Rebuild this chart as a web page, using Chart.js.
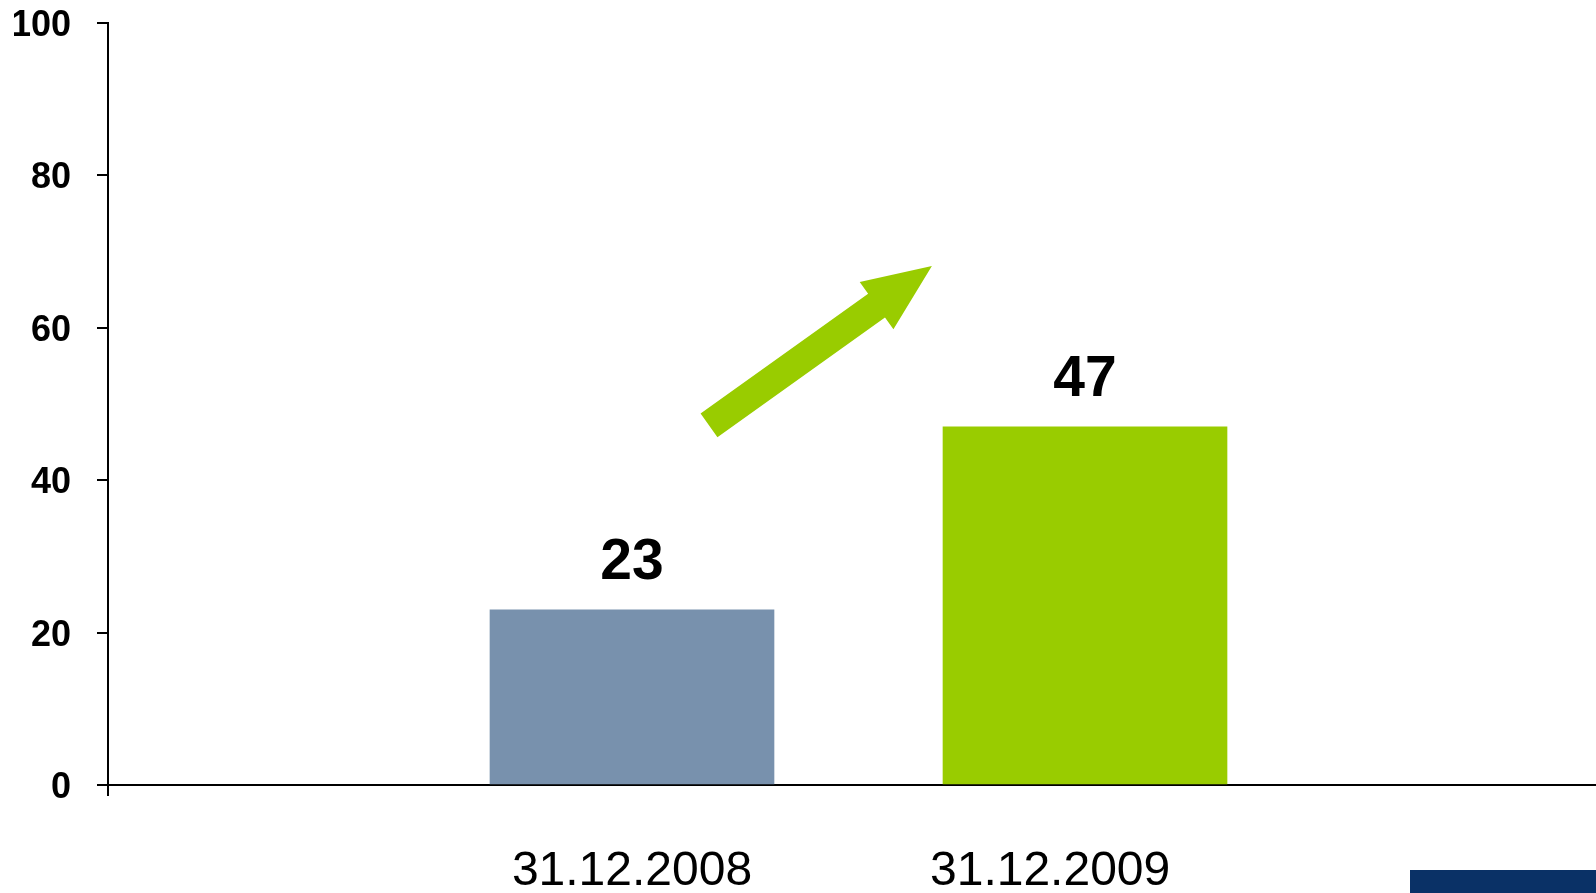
<!DOCTYPE html>
<html>
<head>
<meta charset="utf-8">
<script src="https://cdn.jsdelivr.net/npm/chart.js@4/dist/chart.umd.min.js"></script>
<style>
    html, body { margin: 0; padding: 0; background: #fff; }
    #wrap { position: relative; width: 1596px; height: 893px; overflow: hidden; }
    #footerBar { position: absolute; left: 1410px; top: 870px; width: 186px; height: 23px; background: #0a3166; }
</style>
</head>
<body>
<div id="wrap">
    <canvas id="chart" width="1596" height="893"></canvas>
    <div id="footerBar"></div>
</div>
<script>
// data
const categories = ['31.12.2008', '31.12.2009'];
const values = [23, 47];
const barColors = ['#7891ad', '#99cc00'];
const yTicks = [0, 20, 40, 60, 80, 100];

// growth arrow, in chart value space
const arrowFrom = { x: 1.17, y: 47.2 };
const arrowTo = { x: 1.662, y: 68.1 };

const FONT = '"Liberation Sans", Arial, sans-serif';
// category labels are not quite centred under their bars in the original
const labelShift = [0, -0.077];

// value labels above the bars
const valueLabels = {
    id: 'valueLabels',
    afterDatasetsDraw(chart) {
        const ctx = chart.ctx;
        const meta = chart.getDatasetMeta(0);
        ctx.save();
        ctx.font = 'bold 57px ' + FONT;
        ctx.fillStyle = '#000';
        ctx.textAlign = 'center';
        ctx.textBaseline = 'alphabetic';
        meta.data.forEach((bar, i) => ctx.fillText(String(values[i]), bar.x, bar.y - 31));
        ctx.restore();
    }
};

// green arrow
const growthArrow = {
    id: 'growthArrow',
    afterDatasetsDraw(chart) {
        const { ctx, scales } = chart;
        const x0 = scales.x.getPixelForValue(arrowFrom.x), y0 = scales.y.getPixelForValue(arrowFrom.y);
        const x1 = scales.x.getPixelForValue(arrowTo.x), y1 = scales.y.getPixelForValue(arrowTo.y);
        const len = Math.hypot(x1 - x0, y1 - y0);
        const ux = (x1 - x0) / len, uy = (y1 - y0) / len;
        const nx = -uy, ny = ux;
        const hw = 14.5, hh = 29, hl = 68;
        const bx = x1 - ux * hl, by = y1 - uy * hl;
        ctx.save();
        ctx.fillStyle = '#99cc00';
        ctx.beginPath();
        ctx.moveTo(x0 + nx * hw, y0 + ny * hw);
        ctx.lineTo(bx + nx * hw, by + ny * hw);
        ctx.lineTo(bx + nx * hh, by + ny * hh);
        ctx.lineTo(x1, y1);
        ctx.lineTo(bx - nx * hh, by - ny * hh);
        ctx.lineTo(bx - nx * hw, by - ny * hw);
        ctx.lineTo(x0 - nx * hw, y0 - ny * hw);
        ctx.closePath();
        ctx.fill();
        ctx.restore();
    }
};

const ctx = document.getElementById('chart').getContext('2d');
new Chart(ctx, {
    type: 'bar',
    data: {
        datasets: [{
            data: values.map((v, i) => ({ x: i + 1, y: v })),
            backgroundColor: barColors,
            borderWidth: 0,
            barThickness: 284
        }]
    },
    options: {
        responsive: false,
        animation: false,
        devicePixelRatio: 1,
        layout: { padding: { left: 14, top: 23, right: 0, bottom: 0 } },
        plugins: {
            legend: { display: false },
            tooltip: { enabled: false }
        },
        scales: {
            x: {
                type: 'linear',
                offset: false,
                min: -0.1567,
                max: 3.128,
                afterBuildTicks: scale => {
                    scale.ticks = [{ value: scale.min }].concat(categories.map((c, i) => ({ value: i + 1 + labelShift[i] })));
                },
                afterFit: scale => {
                    scale.height = 108;
                    scale.paddingLeft = 0;
                    scale.paddingRight = 0;
                },
                ticks: {
                    autoSkip: false,
                    maxRotation: 0,
                    padding: 52,
                    color: '#000',
                    font: { family: FONT, size: 48, lineHeight: 1.0 },
                    callback: (v, i) => i > 0 ? categories[i - 1] : ''
                },
                grid: {
                    offset: false,
                    drawOnChartArea: false,
                    drawTicks: true,
                    tickLength: 11,
                    lineWidth: 2,
                    color: c => c.index === 0 ? '#000' : 'rgba(0,0,0,0)'
                },
                border: { color: '#000', width: 2 }
            },
            y: {
                min: 0,
                max: 100,
                afterBuildTicks: scale => {
                    scale.ticks = yTicks.map(v => ({ value: v }));
                },
                afterFit: scale => {
                    scale.width = 94;
                    scale.paddingTop = 0;
                    scale.paddingBottom = 0;
                },
                ticks: {
                    padding: 26,
                    labelOffset: 3,
                    color: '#000',
                    font: { family: FONT, size: 36, weight: 'bold' }
                },
                grid: {
                    drawOnChartArea: false,
                    drawTicks: true,
                    tickLength: 11,
                    lineWidth: 2,
                    color: '#000'
                },
                border: { color: '#000', width: 2 }
            }
        }
    },
    plugins: [valueLabels, growthArrow]
});
</script>
</body>
</html>
